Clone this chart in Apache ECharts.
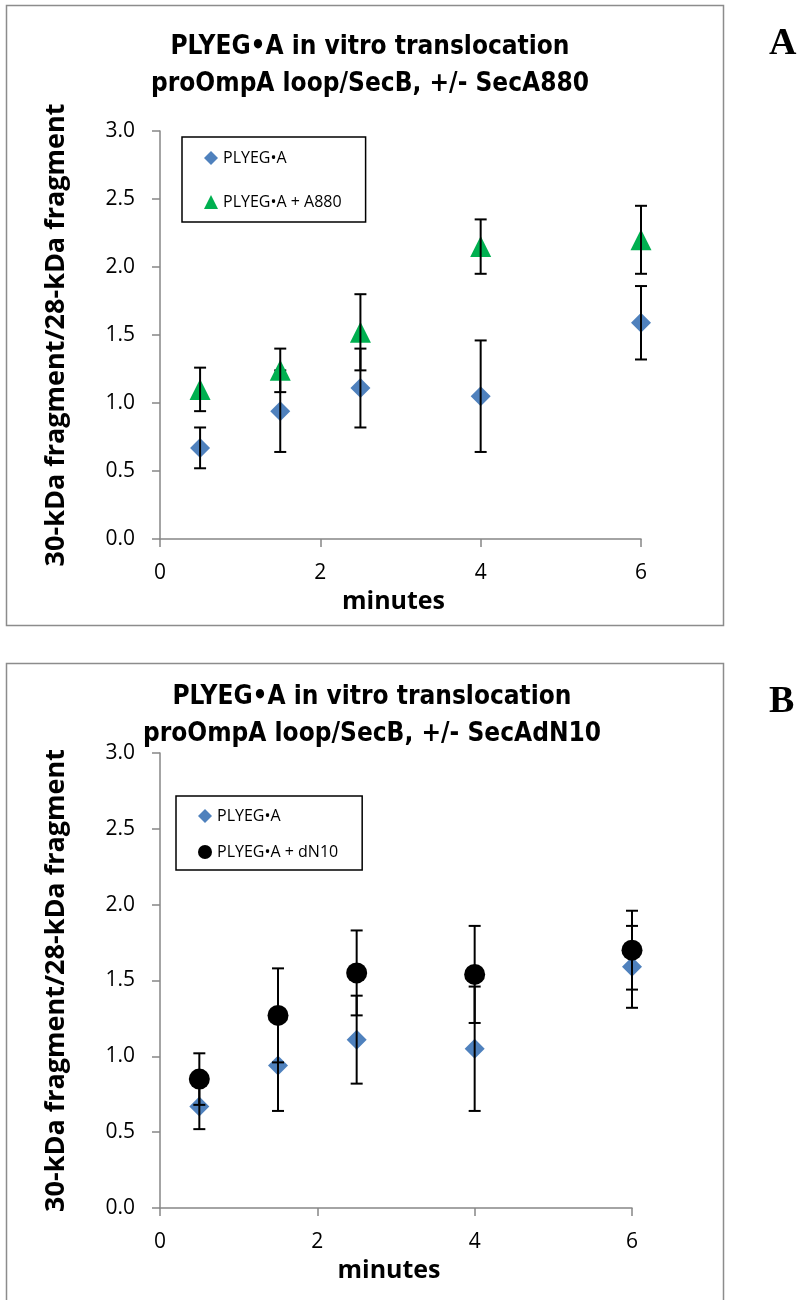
<!DOCTYPE html>
<html>
<head>
<meta charset="utf-8">
<script src="https://cdn.jsdelivr.net/npm/echarts@6/dist/echarts.min.js"></script>
<style>
  html, body { margin: 0; padding: 0; background: #fff; }
</style>
</head>
<body>
<div id="chart" style="width: 799px; height: 1300px"></div>
<script>
// time points (minutes)
var minutes = [0.5, 1.5, 2.5, 4, 6]
// PLYEG•A alone (same in both panels)
var plyegA = [0.67, 0.94, 1.11, 1.05, 1.59]
var plyegAErr = [0.15, 0.30, 0.29, 0.41, 0.27]
// panel A: + SecA880
var plusA880 = [1.10, 1.24, 1.52, 2.15, 2.20]
var plusA880Err = [0.16, 0.16, 0.28, 0.20, 0.25]
// panel B: + SecAdN10
var plusDN10 = [0.85, 1.27, 1.55, 1.54, 1.70]
var plusDN10Err = [0.17, 0.31, 0.28, 0.32, 0.26]
var yTicks = [0, 3, 0.5] // min, max, interval
var xTicks = [0, 6, 2]

var TITLE_FONT = "'Liberation Sans Narrow', 'DejaVu Sans Condensed', sans-serif"
var FONT = "'Open Sans', sans-serif"
var AXIS_GRAY = '#868686'

const points = (vals) => vals.map((v, i) => [minutes[i], v])
const errData = (vals, errs) => vals.map((v, i) => [minutes[i], v - errs[i], v + errs[i]])

// error bar with caps, positioned through the axis scale
const errRender = (params, api) => {
  var x = api.value(0)
  var lo = api.coord([x, api.value(1)])
  var hi = api.coord([x, api.value(2)])
  var w = 6
  var st = { stroke: '#000', lineWidth: 2 }
  return {
    type: 'group',
    children: [
      { type: 'line', shape: { x1: lo[0], y1: lo[1], x2: hi[0], y2: hi[1] }, style: st },
      { type: 'line', shape: { x1: hi[0] - w, y1: hi[1], x2: hi[0] + w, y2: hi[1] }, style: st },
      { type: 'line', shape: { x1: lo[0] - w, y1: lo[1], x2: lo[0] + w, y2: lo[1] }, style: st }
    ]
  }
}

const makeX = (idx) => ({
  type: 'value', gridIndex: idx,
  min: xTicks[0], max: xTicks[1], interval: xTicks[2],
  name: 'minutes', nameLocation: 'middle', nameGap: 50,
  nameTextStyle: { fontFamily: FONT, fontSize: 25, fontWeight: 'bold', color: '#000', padding: [0, 14, 0, 0] },
  axisLine: { lineStyle: { color: AXIS_GRAY, width: 1.5 } },
  axisTick: { length: 8, lineStyle: { color: AXIS_GRAY, width: 1.5 } },
  axisLabel: { fontFamily: FONT, fontSize: 21, color: '#000', margin: 24 },
  splitLine: { show: false }
})
const makeY = (idx) => ({
  type: 'value', gridIndex: idx,
  min: yTicks[0], max: yTicks[1], interval: yTicks[2],
  name: '30-kDa fragment/28-kDa fragment', nameLocation: 'middle', nameGap: 90, nameRotate: 90,
  nameTextStyle: { fontFamily: FONT, fontSize: 27, fontWeight: 'bold', color: '#000' },
  axisLine: { show: true, lineStyle: { color: AXIS_GRAY, width: 1.5 } },
  axisTick: { show: true, length: 8, lineStyle: { color: AXIS_GRAY, width: 1.5 } },
  axisLabel: { fontFamily: FONT, fontSize: 21, color: '#000', margin: 25, formatter: (v) => v.toFixed(1) },
  splitLine: { show: false }
})

const legendText = { fontFamily: FONT, fontSize: 16, color: '#000' }

var myChart = echarts.init(document.getElementById('chart'))
var option = {
  animation: false,
  backgroundColor: '#fff',
  graphic: [
    { type: 'rect', shape: { x: 6.5, y: 5.5, width: 717, height: 620 }, style: { fill: 'none', stroke: '#8c8c8c', lineWidth: 1.5 }, z: -1 },
    { type: 'rect', shape: { x: 6.5, y: 663.5, width: 717, height: 660 }, style: { fill: 'none', stroke: '#8c8c8c', lineWidth: 1.5 }, z: -1 },
    { type: 'text', x: 769, y: 44, style: { text: 'A', font: 'bold 38px "Liberation Serif", serif', fill: '#000', textVerticalAlign: 'middle' } },
    { type: 'text', x: 769, y: 702, style: { text: 'B', font: 'bold 38px "Liberation Serif", serif', fill: '#000', textVerticalAlign: 'middle' } }
  ],
  title: [{
    text: 'PLYEG•A in vitro translocation\nproOmpA loop/SecB, +/- SecA880',
    left: 365, top: 24, textAlign: 'center',
    textStyle: { fontFamily: TITLE_FONT, fontSize: 26, fontWeight: 'bold', color: '#000', lineHeight: 37 }
  }, {
    text: 'PLYEG•A in vitro translocation\nproOmpA loop/SecB, +/- SecAdN10',
    left: 367, top: 674, textAlign: 'center',
    textStyle: { fontFamily: TITLE_FONT, fontSize: 26, fontWeight: 'bold', color: '#000', lineHeight: 37 }
  }],
  legend: [{
    orient: 'vertical', left: 182, top: 137,
    data: ['PLYEG•A', 'PLYEG•A + A880'],
    itemGap: 28, itemWidth: 14, itemHeight: 14,
    padding: [13, 24, 12, 22],
    itemStyle: { opacity: 1 },
    borderColor: '#000', borderWidth: 1.5,
    textStyle: legendText
  }, {
    orient: 'vertical', left: 176, top: 796,
    data: ['PLYEG•A', 'PLYEG•A + dN10'],
    itemGap: 20, itemWidth: 14, itemHeight: 14,
    padding: [12, 24, 10, 22],
    borderColor: '#000', borderWidth: 1.5,
    textStyle: legendText
  }],
  grid: [
    { left: 160, top: 131, width: 481, height: 408 },
    { left: 160, top: 753, width: 472, height: 455 }
  ],
  xAxis: [makeX(0), makeX(1)],
  yAxis: [makeY(0), makeY(1)],
  series: [
    { name: 'PLYEG•A', type: 'scatter', xAxisIndex: 0, yAxisIndex: 0, symbol: 'diamond', symbolSize: 20, itemStyle: { color: '#4f81bd', opacity: 1 }, data: points(plyegA), z: 2 },
    { type: 'custom', xAxisIndex: 0, yAxisIndex: 0, renderItem: errRender, encode: { x: 0, y: [1, 2] }, data: errData(plyegA, plyegAErr), z: 3 },
    { name: 'PLYEG•A + A880', type: 'scatter', xAxisIndex: 0, yAxisIndex: 0, symbol: 'triangle', symbolSize: 21, itemStyle: { color: '#00b050', opacity: 1 }, data: points(plusA880), z: 4 },
    { type: 'custom', xAxisIndex: 0, yAxisIndex: 0, renderItem: errRender, encode: { x: 0, y: [1, 2] }, data: errData(plusA880, plusA880Err), z: 5 },

    { name: 'PLYEG•A', type: 'scatter', xAxisIndex: 1, yAxisIndex: 1, symbol: 'diamond', symbolSize: 20, itemStyle: { color: '#4f81bd', opacity: 1 }, data: points(plyegA), z: 2 },
    { type: 'custom', xAxisIndex: 1, yAxisIndex: 1, renderItem: errRender, encode: { x: 0, y: [1, 2] }, data: errData(plyegA, plyegAErr), z: 3 },
    { name: 'PLYEG•A + dN10', type: 'scatter', xAxisIndex: 1, yAxisIndex: 1, symbol: 'circle', symbolSize: 21, itemStyle: { color: '#000', opacity: 1 }, data: points(plusDN10), z: 4 },
    { type: 'custom', xAxisIndex: 1, yAxisIndex: 1, renderItem: errRender, encode: { x: 0, y: [1, 2] }, data: errData(plusDN10, plusDN10Err), z: 5 }
  ]
}
myChart.setOption(option)
</script>
</body>
</html>
